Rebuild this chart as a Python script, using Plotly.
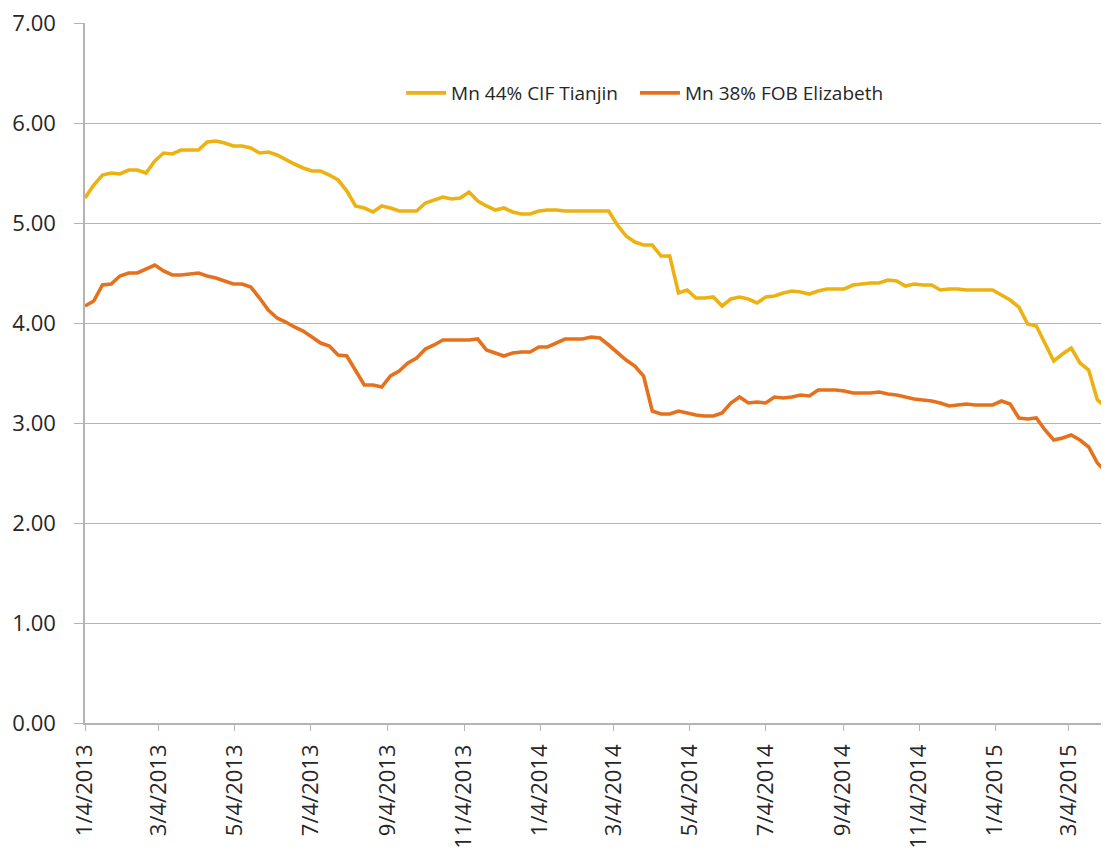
import pandas as pd
import plotly.graph_objects as go

# Weekly observation dates (Fridays)
start_date = "2013-01-04"
n_weeks = 118
dates = pd.date_range(start_date, periods=n_weeks, freq="7D")

tianjin_44 = [
    5.25, 5.38, 5.48, 5.50, 5.49, 5.53, 5.53, 5.50, 5.62, 5.70, 5.69, 5.73, 5.73, 5.73, 5.81,
    5.82, 5.80, 5.77, 5.77, 5.75, 5.70, 5.71, 5.68, 5.63, 5.59, 5.55, 5.52, 5.52, 5.48,
    5.43, 5.32, 5.17, 5.15, 5.11, 5.17, 5.15, 5.12, 5.12, 5.12, 5.20, 5.23, 5.26, 5.24, 5.25,
    5.31, 5.22, 5.17, 5.13, 5.15, 5.11, 5.09, 5.09, 5.12, 5.13, 5.13, 5.12, 5.12, 5.12,
    5.12, 5.12, 5.12, 4.98, 4.87, 4.81, 4.78, 4.78, 4.67, 4.67, 4.30, 4.33, 4.25, 4.25,
    4.26, 4.17, 4.24, 4.26, 4.24, 4.20, 4.26, 4.27, 4.30, 4.32, 4.31, 4.29, 4.32, 4.34, 4.34,
    4.34, 4.38, 4.39, 4.40, 4.40, 4.43, 4.42, 4.37, 4.39, 4.38, 4.38, 4.33, 4.34, 4.34,
    4.33, 4.33, 4.33, 4.33, 4.28, 4.23, 4.16, 3.99, 3.97, 3.80, 3.62, 3.69, 3.75, 3.60, 3.53, 3.23, 3.16,
]

elizabeth_38 = [
    4.17, 4.22, 4.38, 4.39, 4.47, 4.50, 4.50, 4.54, 4.58, 4.52, 4.48, 4.48, 4.49, 4.50, 4.47,
    4.45, 4.42, 4.39, 4.39, 4.36, 4.25, 4.13, 4.05, 4.01, 3.96, 3.92, 3.86, 3.80, 3.77,
    3.68, 3.67, 3.52, 3.38, 3.38, 3.36, 3.47, 3.52, 3.60, 3.65, 3.74, 3.78, 3.83, 3.83, 3.83,
    3.83, 3.84, 3.73, 3.70, 3.67, 3.70, 3.71, 3.71, 3.76, 3.76, 3.80, 3.84, 3.84, 3.84,
    3.86, 3.85, 3.78, 3.70, 3.63, 3.57, 3.47, 3.12, 3.09, 3.09, 3.12, 3.10, 3.08, 3.07,
    3.07, 3.10, 3.20, 3.26, 3.20, 3.21, 3.20, 3.26, 3.25, 3.26, 3.28, 3.27, 3.33, 3.33, 3.33,
    3.32, 3.30, 3.30, 3.30, 3.31, 3.29, 3.28, 3.26, 3.24, 3.23, 3.22, 3.20, 3.17, 3.18,
    3.19, 3.18, 3.18, 3.18, 3.22, 3.19, 3.05, 3.04, 3.05, 2.93, 2.83, 2.85, 2.88, 2.83, 2.76, 2.60, 2.51,
]

series_names = ["Mn 44% CIF Tianjin", "Mn 38% FOB Elizabeth"]
series_colors = ["#EDB111", "#E5711D"]
series_legends = ["legend", "legend2"]

tick_dates = ["2013-01-04", "2013-03-04", "2013-05-04", "2013-07-04", "2013-09-04",
              "2013-11-04", "2014-01-04", "2014-03-04", "2014-05-04", "2014-07-04",
              "2014-09-04", "2014-11-04", "2015-01-04", "2015-03-04"]
tick_labels = ["1/4/2013", "3/4/2013", "5/4/2013", "7/4/2013", "9/4/2013",
               "11/4/2013", "1/4/2014", "3/4/2014", "5/4/2014", "7/4/2014",
               "9/4/2014", "11/4/2014", "1/4/2015", "3/4/2015"]
y_ticks = [0, 1, 2, 3, 4, 5, 6, 7]

FONT = "Open Sans, Noto Sans, sans-serif"
GRID = "#B4B4B4"

fig = go.Figure()
for name, vals, col, lg in zip(series_names, [tianjin_44, elizabeth_38], series_colors, series_legends):
    fig.add_trace(go.Scatter(x=dates, y=vals, mode="lines", name=name, legend=lg,
                             line=dict(color=col, width=3.6)))

legend_style = dict(orientation="h", y=0.9, xanchor="left", yanchor="middle",
                    font=dict(size=19, family=FONT, color="#262626"),
                    bgcolor="rgba(0,0,0,0)", itemwidth=40)

# the page body adds an 8px offset, so the figure is sized to end at the window edge
fig.update_layout(
    width=1101, height=845,
    margin=dict(l=77, r=1, t=15, b=130, autoexpand=False),
    paper_bgcolor="white", plot_bgcolor="white",
    font=dict(family=FONT, color="#262626"),
    showlegend=True,
    legend=dict(x=0.309, **legend_style),
    legend2=dict(x=0.5376, **legend_style),
)
fig.update_xaxes(
    type="date", range=["2013-01-04", "2015-04-04 12:00"],
    tickmode="array", tickvals=tick_dates, ticktext=tick_labels,
    tickangle=-90, tickfont=dict(size=22, family=FONT, color="#262626"),
    ticks="outside", ticklen=6, tickcolor=GRID, tickwidth=1,
    ticklabelstandoff=5, ticklabeloverflow="allow",
    showline=True, linecolor=GRID, linewidth=1.5,
    showgrid=False, zeroline=False, automargin=False,
)
fig.update_yaxes(
    range=[0, 7.0001], tickmode="array", tickvals=y_ticks, tickformat=".2f",
    tickfont=dict(size=22, family=FONT, color="#262626"),
    ticks="outside", ticklen=9, tickcolor=GRID, tickwidth=1,
    ticklabelstandoff=14, ticklabeloverflow="allow",
    showline=True, linecolor=GRID, linewidth=1.5,
    showgrid=True, gridcolor=GRID, gridwidth=1, zeroline=False, automargin=False,
)

fig.write_html("out.html")
